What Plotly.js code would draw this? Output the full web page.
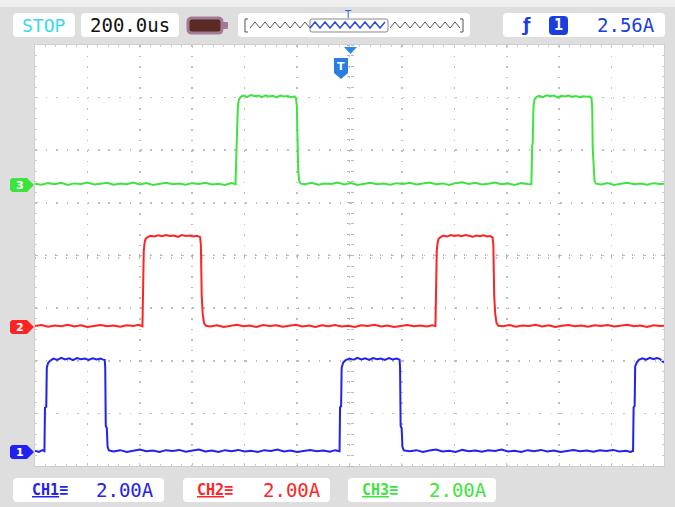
<!DOCTYPE html>
<html><head><meta charset="utf-8">
<script src="https://cdn.plot.ly/plotly-3.0.1.min.js"></script>
<style>html,body{margin:0;padding:0;background:#e3e3e3}#chart{width:675px;height:507px}</style>
</head><body><div id="chart"></div>
<script>
// ---- Scope settings ----
const timebaseLabel = "200.0us";
const runState = "STOP";
const triggerChannel = "1";
const triggerLevel = "2.56A";
const channelNames = ["CH1", "CH2", "CH3"];
const channelScales = ["2.00A", "2.00A", "2.00A"];
const ampsPerDiv = 2.0;
// ground offsets of each channel (divisions from bottom of screen)
const channelOffsets = [0.266, 2.64, 5.34];
const channelColors = ["#2222ee", "#ff2424", "#3ee43e"];

// ---- CH1 (blue) : time (us) / current (A) ----
const ch1Time = [-1200,-1185,-1172,-1164,-1162,-1157,-1155,-1150,-1142,-1130,-1115,-1100,-1085,-1070,-1055,-1040,-1025,-1010,-995,-980,-965,-950,-940,-934,-932,-930,-926,-923,-918,
 -900,-875,-850,-825,-800,-775,-750,-725,-700,-675,-650,-625,-600,-575,-550,-525,-500,-475,-450,-425,-400,-375,-350,-325,-300,-275,-250,-225,-200,-175,-150,-125,-100,-75,-55,-38,
 -36,-32,-30,-24,-16,0,15,30,45,60,75,90,105,120,135,150,165,180,191,193,195,199,202,207,
 230,255,280,305,330,355,380,405,430,455,480,505,530,555,580,605,630,655,680,705,730,755,780,805,830,855,880,905,930,955,980,1005,1030,1055,1072,1082,
 1084,1088,1090,1096,1104,1118,1132,1146,1160,1172,1182,1192,1200];
const ch1Amps = [0.05,0.0,0.07,0.03,1.68,1.72,3.2,3.38,3.47,3.55,3.5,3.58,3.52,3.56,3.49,3.57,3.53,3.55,3.5,3.56,3.52,3.55,3.51,3.5,3.2,1.0,0.9,0.2,0.06,
 0.02,0.07,0.0,0.05,0.09,0.03,0.06,0.0,0.07,0.04,0.08,0.01,0.05,0.09,0.02,0.06,0.0,0.07,0.03,0.08,0.02,0.05,0.0,0.07,0.04,0.09,0.02,0.06,0.0,0.05,0.08,0.03,0.06,0.01,0.07,0.03,
 1.7,1.74,3.2,3.4,3.48,3.55,3.5,3.58,3.52,3.56,3.5,3.57,3.53,3.55,3.5,3.57,3.52,3.55,3.51,3.2,1.0,0.9,0.2,0.06,
 0.03,0.07,0.0,0.06,0.09,0.02,0.05,0.0,0.08,0.03,0.06,0.01,0.07,0.04,0.09,0.02,0.05,0.0,0.07,0.03,0.08,0.02,0.06,0.0,0.05,0.08,0.03,0.06,0.01,0.07,0.04,0.08,0.02,0.05,0.0,0.04,
 1.7,1.75,3.25,3.4,3.5,3.56,3.51,3.58,3.53,3.57,3.55,3.47,3.4];

// ---- CH2 (red) ----
const ch2Time = [-1200,-1175,-1150,-1125,-1100,-1075,-1050,-1025,-1000,-975,-950,-925,-900,-875,-850,-825,-805,-790,
 -788,-785,-782,-778,-770,-760,-745,-730,-715,-700,-685,-670,-655,-640,-625,-610,-595,-582,-570,-567,-564,-560,-555,-548,
 -530,-505,-480,-455,-430,-405,-380,-355,-330,-305,-280,-255,-230,-205,-180,-155,-130,-105,-80,-55,-30,-5,20,45,70,95,120,145,170,195,220,245,270,295,315,328,
 330,333,336,340,348,358,372,386,400,414,428,442,456,470,484,498,512,526,538,546,549,552,556,561,568,
 585,610,635,660,685,710,735,760,785,810,835,860,885,910,935,960,985,1010,1035,1060,1085,1110,1135,1160,1185,1200];
const ch2Amps = [0.04,0.08,0.01,0.06,0.03,0.09,0.02,0.07,0.0,0.05,0.08,0.03,0.06,0.01,0.07,0.04,0.09,0.03,
 1.6,2.9,3.2,3.35,3.42,3.47,3.44,3.49,3.45,3.5,3.46,3.48,3.43,3.5,3.46,3.48,3.44,3.47,3.42,3.1,1.2,0.5,0.15,0.05,
 0.02,0.07,0.0,0.05,0.09,0.03,0.06,0.0,0.08,0.04,0.07,0.01,0.05,0.09,0.02,0.06,0.0,0.07,0.03,0.08,0.02,0.05,0.0,0.07,0.04,0.09,0.02,0.06,0.0,0.05,0.08,0.03,0.06,0.02,0.07,0.04,
 1.6,2.9,3.2,3.35,3.42,3.48,3.44,3.5,3.46,3.49,3.45,3.5,3.47,3.43,3.48,3.45,3.49,3.44,3.46,3.4,3.1,1.2,0.5,0.15,0.05,
 0.03,0.08,0.01,0.06,0.04,0.09,0.02,0.07,0.0,0.05,0.08,0.03,0.06,0.01,0.07,0.04,0.08,0.02,0.05,0.09,0.03,0.06,0.0,0.07,0.04,0.05];

// ---- CH3 (green) ----
const ch3Time = [-1200,-1175,-1150,-1125,-1100,-1075,-1050,-1025,-1000,-975,-950,-925,-900,-875,-850,-825,-800,-775,-750,-725,-700,-675,-650,-625,-600,-575,-550,-525,-500,-475,-450,-435,
 -431,-429,-426,-422,-414,-404,-390,-376,-362,-348,-334,-320,-306,-292,-278,-264,-250,-236,-222,-210,-204,-201,-199,-196,-192,-186,
 -170,-145,-120,-95,-70,-45,-20,5,30,55,80,105,130,155,180,205,230,255,280,305,330,355,380,405,430,455,480,505,530,555,580,605,630,655,680,694,
 697,699,702,706,714,724,738,752,766,780,794,808,822,836,850,864,878,892,906,918,923,926,928,931,935,941,
 960,985,1010,1035,1060,1085,1110,1135,1160,1185,1200];
const ch3Amps = [0.05,0.01,0.07,0.03,0.08,0.0,0.06,0.04,0.09,0.02,0.05,0.08,0.01,0.06,0.03,0.09,0.02,0.07,0.0,0.05,0.08,0.03,0.06,0.01,0.07,0.04,0.08,0.02,0.05,0.0,0.07,0.03,
 1.5,1.6,3.0,3.25,3.36,3.4,3.35,3.42,3.37,3.4,3.34,3.41,3.36,3.39,3.33,3.4,3.36,3.38,3.34,3.37,3.3,3.0,1.4,0.6,0.15,0.05,
 0.03,0.08,0.01,0.06,0.04,0.09,0.02,0.07,0.0,0.05,0.08,0.03,0.06,0.01,0.07,0.04,0.08,0.02,0.05,0.09,0.03,0.06,0.0,0.07,0.1,0.04,0.08,0.02,0.05,0.09,0.03,0.06,0.0,0.07,0.04,0.03,
 1.5,1.6,3.0,3.25,3.35,3.39,3.34,3.41,3.37,3.4,3.33,3.39,3.36,3.4,3.35,3.38,3.34,3.37,3.35,3.36,3.3,3.0,1.4,0.6,0.15,0.05,
 0.02,0.07,0.0,0.05,0.08,0.03,0.06,0.01,0.07,0.04,0.05];

const channelTimes = [ch1Time, ch2Time, ch3Time];
const channelAmps = [ch1Amps, ch2Amps, ch3Amps];

// ---- geometry helpers (pixel -> paper) for decorations ----
const PL = 35, PR = 664, PT = 45, PB = 466;
const fx = p => (p - PL) / (PR - PL);
const fy = p => (PB - p) / (PB - PT);
function polyPath(pts) {
  return pts.map((p, i) => (i ? "L" : "M") + fx(p[0]).toFixed(5) + "," + fy(p[1]).toFixed(5)).join(" ") + " Z";
}
function roundRect(x0, y0, x1, y1, r) {
  const P = (x, y) => fx(x).toFixed(5) + "," + fy(y).toFixed(5);
  return "M" + P(x0 + r, y0) + " L" + P(x1 - r, y0) + " Q" + P(x1, y0) + " " + P(x1, y0 + r) +
    " L" + P(x1, y1 - r) + " Q" + P(x1, y1) + " " + P(x1 - r, y1) +
    " L" + P(x0 + r, y1) + " Q" + P(x0, y1) + " " + P(x0, y1 - r) +
    " L" + P(x0, y0 + r) + " Q" + P(x0, y0) + " " + P(x0 + r, y0) + " Z";
}
const divH = (PB - PT) / 8;

const shapes = [];
const ann = [];
function box(x0, y0, x1, y1, fill, line, lw, r) {
  shapes.push({type: "path", xref: "paper", yref: "paper", path: roundRect(x0, y0, x1, y1, r || 4),
    fillcolor: fill, line: {color: line || fill, width: lw || 0}, layer: "above"});
}
function label(x, y, text, color, size, family, extra) {
  ann.push(Object.assign({xref: "paper", yref: "paper", x: fx(x), y: fy(y), text: text, showarrow: false,
    xanchor: "center", yanchor: "middle", font: {color: color, size: size, family: family || "DejaVu Sans Mono"}}, extra || {}));
}

// outer frame lighter rim
shapes.push({type: "rect", xref: "paper", yref: "paper", x0: fx(0), x1: fx(675), y0: fy(0), y1: fy(7), fillcolor: "#efefef", line: {width: 0}, layer: "below"});

// Header boxes
box(13, 13, 75, 37, "#ffffff");
label(44, 25.5, runState, "#38d8ee", 18);
box(81, 13, 179, 37, "#ffffff");
label(130, 25.5, timebaseLabel, "#111111", 19);
// battery icon
box(188, 18, 222, 33, "#5b2a22", "#a27a98", 3, 4);
box(221, 22, 228, 29, "#a27a98", "#a27a98", 0, 1);
// timeline box
box(238, 13, 470, 37, "#ffffff");
(function () {
  let ptsA = [], ptsB = [], ptsC = [];
  for (let x = 250, k = 0; x <= 460; x += 5, k++) {
    const y = (k % 2) ? 22 : 28;
    if (x <= 312) ptsA.push([x, y]);
    if (x >= 310 && x <= 388) ptsB.push([x, y]);
    if (x >= 386) ptsC.push([x, y]);
  }
  const linePath = pts => pts.map((p, i) => (i ? "L" : "M") + fx(p[0]).toFixed(5) + "," + fy(p[1]).toFixed(5)).join(" ");
  shapes.push({type: "path", xref: "paper", yref: "paper", path: linePath(ptsA), line: {color: "#555555", width: 1}, layer: "above"});
  shapes.push({type: "path", xref: "paper", yref: "paper", path: linePath(ptsC), line: {color: "#555555", width: 1}, layer: "above"});
  shapes.push({type: "path", xref: "paper", yref: "paper", path: roundRect(310, 19, 388, 32, 2), line: {color: "#888888", width: 1}, layer: "above"});
  shapes.push({type: "path", xref: "paper", yref: "paper", path: linePath(ptsB), line: {color: "#2a4fe0", width: 1.5}, layer: "above"});
  shapes.push({type: "path", xref: "paper", yref: "paper", path: linePath([[248, 19], [245, 19], [245, 32], [248, 32]]), line: {color: "#555555", width: 1}, layer: "above"});
  shapes.push({type: "path", xref: "paper", yref: "paper", path: linePath([[460, 19], [463, 19], [463, 32], [460, 32]]), line: {color: "#555555", width: 1}, layer: "above"});
})();
label(348, 15, "T", "#2a6ad8", 10, "DejaVu Sans", {});
// trigger box
box(503, 13, 665, 37, "#ffffff");
label(526, 25.5, "<b>ƒ</b>", "#1a3ee0", 17, "DejaVu Sans");
box(549, 16, 568, 35, "#1a3ee0", "#1a3ee0", 0, 4);
label(558.5, 25.5, "<b>" + triggerChannel + "</b>", "#ffffff", 15, "DejaVu Sans Mono");
label(626, 25.5, triggerLevel, "#1a3ee0", 19);

// Footer boxes
const footX = [[13, 164], [183, 330], [348, 496]];
const footLabelX = [50, 215, 380];
const footValX = [125, 292, 458];
for (let i = 0; i < 3; i++) {
  box(footX[i][0], 478, footX[i][1], 502, "#ffffff");
  label(footLabelX[i], 490, "<b><u>" + channelNames[i] + "</u>≡</b>", channelColors[i], 15, "DejaVu Sans Mono");
  label(footValX[i], 490, channelScales[i], channelColors[i], 19);
}

// Channel ground markers (left)
for (let i = 0; i < 3; i++) {
  const yc = PB - channelOffsets[i] * divH;
  shapes.push({type: "path", xref: "paper", yref: "paper",
    path: polyPath([[12, yc - 7], [27, yc - 7], [34, yc], [27, yc + 7], [12, yc + 7], [10, yc + 5], [10, yc - 5]]),
    fillcolor: channelColors[i], line: {width: 0}, layer: "above"});
  label(20, yc + 0.5, "<b>" + (i + 1) + "</b>", "#ffffff", 11, "DejaVu Sans");
}

// Trigger markers at top
shapes.push({type: "path", xref: "paper", yref: "paper", path: polyPath([[344, 47], [357, 47], [350.5, 54]]), fillcolor: "#2a8ae8", line: {width: 0}, layer: "above"});
shapes.push({type: "path", xref: "paper", yref: "paper", path: polyPath([[334, 58], [348, 58], [348, 73], [341, 79], [334, 73]]), fillcolor: "#2a7ce0", line: {width: 0}, layer: "above"});
label(341, 66.5, "<b>T</b>", "#ffffff", 11, "DejaVu Sans");

// traces
const traces = [2, 1, 0].map(i => ({
  type: "scatter", mode: "lines", x: channelTimes[i],
  y: channelAmps[i].map(a => channelOffsets[i] + a / ampsPerDiv),
  line: {color: channelColors[i], width: 2, shape: "linear"}, hoverinfo: "skip", showlegend: false
}));

const gridCommon = {showticklabels: false, zeroline: false, showgrid: true, gridcolor: "#bdbdbd", gridwidth: 1.6,
  griddash: "1.6px,8.9px", showline: true, linecolor: "#cfcfcf", linewidth: 1, mirror: "allticks",
  ticks: "inside", ticklen: 3, tickcolor: "#c4c4c4", fixedrange: true};
const layout = {
  width: 675, height: 507,
  margin: {l: PL, r: 675 - PR, t: PT, b: 507 - PB, pad: 0},
  paper_bgcolor: "#dedede", plot_bgcolor: "#ffffff",
  showlegend: false,
  xaxis: Object.assign({}, gridCommon, {range: [-1200, 1200], dtick: 200, tick0: 0,
    minor: {dtick: 40, ticks: "inside", ticklen: 2, tickcolor: "#cccccc", showgrid: false}}),
  yaxis: Object.assign({}, gridCommon, {range: [0, 8], dtick: 1, tick0: 0,
    minor: {dtick: 0.2, ticks: "inside", ticklen: 2, tickcolor: "#cccccc", showgrid: false}}),
  xaxis2: {overlaying: "x", anchor: "free", position: 0.5, range: [-1200, 1200], dtick: 40, tick0: 0, side: "bottom",
    ticks: "outside", ticklen: 2, tickcolor: "#b8b8b8", showticklabels: false, showgrid: false, zeroline: false, showline: false, fixedrange: true},
  xaxis3: {overlaying: "x", anchor: "free", position: 0.5, range: [-1200, 1200], dtick: 40, tick0: 0, side: "top",
    ticks: "outside", ticklen: 2, tickcolor: "#b8b8b8", showticklabels: false, showgrid: false, zeroline: false, showline: false, fixedrange: true},
  yaxis2: {overlaying: "y", anchor: "free", position: 0.5, range: [0, 8], dtick: 0.2, tick0: 0, side: "left",
    ticks: "outside", ticklen: 3, tickcolor: "#b8b8b8", showticklabels: false, showgrid: false, zeroline: false, showline: false, fixedrange: true},
  yaxis3: {overlaying: "y", anchor: "free", position: 0.5, range: [0, 8], dtick: 0.2, tick0: 0, side: "right",
    ticks: "outside", ticklen: 3, tickcolor: "#b8b8b8", showticklabels: false, showgrid: false, zeroline: false, showline: false, fixedrange: true},
  shapes: shapes, annotations: ann
};
traces.push({type: "scatter", x: [], y: [], xaxis: "x2", yaxis: "y2", hoverinfo: "skip", showlegend: false});
traces.push({type: "scatter", x: [], y: [], xaxis: "x3", yaxis: "y3", hoverinfo: "skip", showlegend: false});
Plotly.newPlot("chart", traces, layout, {displayModeBar: false, staticPlot: true});
</script>
</body></html>
